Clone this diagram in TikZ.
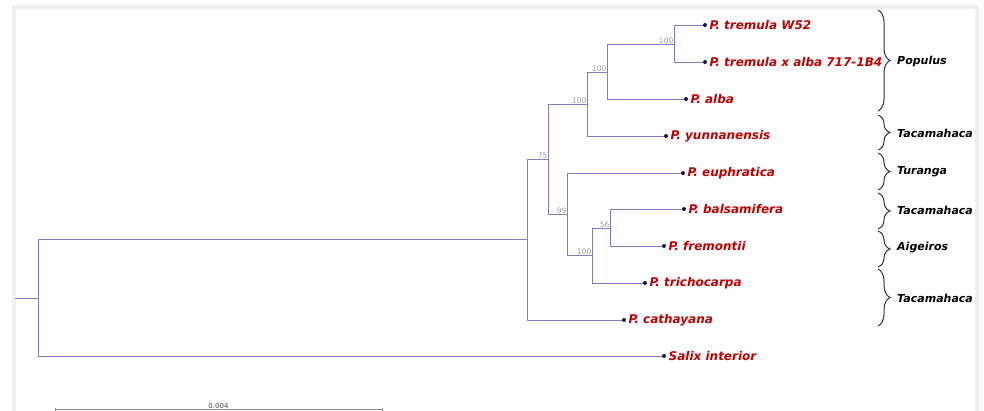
\documentclass[tikz,border=0pt]{standalone}
\usepackage{fontspec}
\setmainfont{DejaVu Sans}
\usepackage{tikz}
\usetikzlibrary{positioning, decorations.pathreplacing, calc}
\definecolor{branchcolor}{RGB}{125,125,200}
\definecolor{taxoncolor}{RGB}{190,0,0}
\definecolor{dotcolor}{RGB}{20,20,70}
\definecolor{framecolor}{RGB}{241,239,238}

\begin{document}
\begin{tikzpicture}[x=1pt, y=-1pt,
    branch/.style={draw=branchcolor, line width=0.9pt},
    leaf/.style={circle, fill=dotcolor, inner sep=0pt, minimum size=4pt},
    taxon/.style={text=taxoncolor, font=\fontsize{12}{14}\selectfont\bfseries\itshape, inner sep=0pt, anchor=west},
    boot/.style={text=gray!80, font=\fontsize{7.5}{8}\selectfont, inner sep=0.5pt, anchor=south east},
    clade/.style={draw=black!80, line width=1pt, decorate, decoration={brace, amplitude=12pt}},
    cladelab/.style={font=\fontsize{11}{13}\selectfont\bfseries\itshape, inner sep=0pt, anchor=west}]
    \useasboundingbox (0,0) rectangle (984,411);
    % cadre
    \draw[framecolor, line width=4pt] (14,420) -- (14,7) -- (977,7) -- (977,420);

    % noeuds internes
    \coordinate (stub) at (15,298);
    \coordinate (root) at (38,298);
    \coordinate (ingrp) at (527,239);
    \coordinate (na) at (548,159);
    \coordinate (nb) at (587,104);
    \coordinate (nd) at (607,72);
    \coordinate (ne) at (674,44);
    \coordinate (nc) at (567,214);
    \coordinate (nf) at (592,255);
    \coordinate (ng) at (610,228);

    % feuilles
    \node[leaf] (w52) at (705,25) {};
    \node[leaf] (tremalba) at (705,62) {};
    \node[leaf] (alba) at (686,99) {};
    \node[leaf] (yunnan) at (666,136) {};
    \node[leaf] (euphr) at (683,173) {};
    \node[leaf] (balsam) at (684,209) {};
    \node[leaf] (fremont) at (664,246) {};
    \node[leaf] (tricho) at (645,283) {};
    \node[leaf] (cathay) at (624,320) {};
    \node[leaf] (salix) at (664,356) {};

    \node[taxon, right=4.5pt of w52.center] (w52t) {P. tremula W52};
    \node[taxon, right=4.5pt of tremalba.center] (tremalbat) {P. tremula x alba 717-1B4};
    \node[taxon, right=4.5pt of alba.center] (albat) {P. alba};
    \node[taxon, right=4.5pt of yunnan.center] (yunnant) {P. yunnanensis};
    \node[taxon, right=4.5pt of euphr.center] (euphrt) {P. euphratica};
    \node[taxon, right=4.5pt of balsam.center] (balsamt) {P. balsamifera};
    \node[taxon, right=4.5pt of fremont.center] (fremontt) {P. fremontii};
    \node[taxon, right=4.5pt of tricho.center] (trichot) {P. trichocarpa};
    \node[taxon, right=4.5pt of cathay.center] (cathayt) {P. cathayana};
    \node[taxon, right=4.5pt of salix.center] (salixt) {Salix interior};

    % branches
    \draw[branch] (stub) -- (root);
    \draw[branch] (root) |- (ingrp);
    \draw[branch] (root) |- (salix);
    \draw[branch] (ingrp) |- (na);
    \draw[branch] (ingrp) |- (cathay);
    \draw[branch] (na) |- (nb);
    \draw[branch] (na) |- (nc);
    \draw[branch] (nb) |- (nd);
    \draw[branch] (nb) |- (yunnan);
    \draw[branch] (nd) |- (ne);
    \draw[branch] (nd) |- (alba);
    \draw[branch] (ne) |- (w52);
    \draw[branch] (ne) |- (tremalba);
    \draw[branch] (nc) |- (euphr);
    \draw[branch] (nc) |- (nf);
    \draw[branch] (nf) |- (ng);
    \draw[branch] (nf) |- (tricho);
    \draw[branch] (ng) |- (balsam);
    \draw[branch] (ng) |- (fremont);

    % bootstrap
    \node[boot] (bna) at (na) {75};
    \node[boot] (bnb) at (nb) {100};
    \node[boot] (bnd) at (nd) {100};
    \node[boot] (bne) at (ne) {100};
    \node[boot] (bnc) at (nc) {99};
    \node[boot] (bnf) at (nf) {100};
    \node[boot] (bng) at (ng) {56};

    % accolades
    \coordinate (pop1) at (878,10);
    \coordinate (pop2) at (878,111);
    \coordinate (tac1) at (878,115);
    \coordinate (tac2) at (878,150);
    \coordinate (tur1) at (878,153);
    \coordinate (tur2) at (878,190);
    \coordinate (tbs1) at (878,193);
    \coordinate (tbs2) at (878,229);
    \coordinate (aig1) at (878,231);
    \coordinate (aig2) at (878,267);
    \coordinate (ttr1) at (878,269);
    \coordinate (ttr2) at (878,326);
    \draw[clade] (pop1) -- (pop2);
    \draw[clade] (tac1) -- (tac2);
    \draw[clade] (tur1) -- (tur2);
    \draw[clade] (tbs1) -- (tbs2);
    \draw[clade] (aig1) -- (aig2);
    \draw[clade] (ttr1) -- (ttr2);
    \node[cladelab] (popl) at (897,61) {Populus};
    \node[cladelab] (tacl) at (897,133) {Tacamahaca};
    \node[cladelab] (turl) at (897,172) {Turanga};
    \node[cladelab] (tbsl) at (897,210) {Tacamahaca};
    \node[cladelab] (aigl) at (897,248) {Aigeiros};
    \node[cladelab] (ttrl) at (897,298) {Tacamahaca};

    % echelle
    \coordinate (sc1) at (55,409);
    \coordinate (sc2) at (382,409);
    \draw[gray!90, line width=1pt] (sc1) -- (sc2);
    \draw[gray!90, line width=0.8pt] ([yshift=-2pt]sc1) -- ([yshift=1.5pt]sc1);
    \draw[gray!90, line width=0.8pt] ([yshift=-2pt]sc2) -- ([yshift=1.5pt]sc2);
    \node[font=\fontsize{7}{8}\selectfont, text=black!75, inner sep=0.5pt, anchor=south] (scl) at ($(sc1)!0.5!(sc2)$) {0.004};
\end{tikzpicture}
\end{document}
